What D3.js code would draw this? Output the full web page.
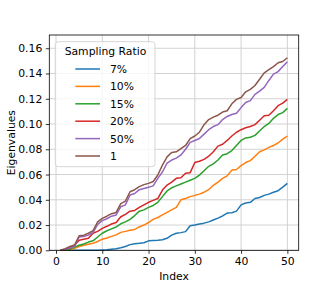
<!DOCTYPE html>
<html>
<head>
<meta charset="utf-8">
<script src="https://cdn.jsdelivr.net/npm/d3@7"></script>
<style>
  body { margin: 0; background: #fff; }
  text { font-family: "DejaVu Sans", sans-serif; }
</style>
</head>
<body>
<div id="chart"></div>
<script>
// データ
const index = d3.range(1, 51);
const ratios = ["7%", "10%", "15%", "20%", "50%", "1"];
const colors = ["#1f77b4", "#ff7f0e", "#2ca02c", "#d62728", "#9467bd", "#8c564b"];

const r7 = [0,0,0,0,0,0,0,0,0,0.0002,
  0.0004,0.0008,0.0012,0.002,0.003,0.0045,0.0052,0.0055,0.006,0.0075,
  0.0078,0.008,0.0083,0.0095,0.012,0.0135,0.014,0.0148,0.0195,0.02,
  0.0208,0.0215,0.0225,0.024,0.0255,0.0272,0.0295,0.0298,0.031,0.036,
  0.0375,0.038,0.041,0.0418,0.0435,0.0445,0.046,0.0472,0.05,0.053];
const r10 = [0,0,0.0008,0.0015,0.003,0.004,0.0048,0.0055,0.007,0.0088,
  0.0098,0.011,0.0122,0.0142,0.015,0.0158,0.0165,0.0185,0.02,0.022,
  0.0245,0.026,0.028,0.03,0.032,0.034,0.04,0.041,0.0425,0.0435,
  0.0445,0.046,0.048,0.0515,0.054,0.057,0.059,0.0635,0.064,0.067,
  0.0695,0.071,0.0745,0.078,0.0795,0.0815,0.083,0.085,0.088,0.0905];
const r15 = [0,0,0.001,0.0025,0.004,0.005,0.0065,0.0075,0.0105,0.0135,
  0.0155,0.017,0.0185,0.021,0.0225,0.0245,0.0275,0.031,0.032,0.034,
  0.0355,0.038,0.0425,0.047,0.0495,0.051,0.0525,0.054,0.0555,0.057,
  0.0595,0.063,0.0665,0.0685,0.0715,0.0755,0.0765,0.079,0.083,0.087,
  0.089,0.0895,0.091,0.0945,0.098,0.1005,0.1045,0.1075,0.109,0.1124];
const r20 = [0,0.0005,0.002,0.004,0.008,0.0088,0.0095,0.0135,0.015,0.0174,
  0.019,0.0208,0.022,0.0266,0.0285,0.031,0.0316,0.034,0.036,0.038,
  0.0395,0.041,0.0477,0.0517,0.054,0.057,0.0575,0.061,0.0615,0.0695,
  0.0705,0.072,0.0745,0.078,0.0825,0.084,0.087,0.0905,0.0935,0.0955,
  0.097,0.098,0.0995,0.103,0.1065,0.107,0.1105,0.1145,0.1165,0.1195];
const r50 = [0,0.0008,0.002,0.003,0.0105,0.011,0.012,0.014,0.0205,0.0235,
  0.025,0.027,0.028,0.0345,0.036,0.0438,0.045,0.048,0.049,0.05,
  0.051,0.057,0.062,0.069,0.0715,0.073,0.0755,0.08,0.0855,0.087,
  0.0885,0.092,0.0955,0.098,0.0995,0.1035,0.106,0.1075,0.1085,0.113,
  0.117,0.1185,0.1235,0.126,0.129,0.1345,0.1395,0.1415,0.1455,0.1493];
const r100 = [0,0.0013,0.003,0.0042,0.0115,0.012,0.0135,0.0155,0.0225,0.0253,
  0.027,0.029,0.03,0.037,0.039,0.0464,0.048,0.0504,0.052,0.053,
  0.0545,0.0596,0.0675,0.074,0.0775,0.078,0.0805,0.083,0.0885,0.0905,
  0.0935,0.0995,0.1035,0.1055,0.107,0.1095,0.1105,0.116,0.1195,0.121,
  0.1255,0.1275,0.1305,0.1355,0.1405,0.143,0.1455,0.1485,0.1495,0.1525];
const series = [r7, r10, r15, r20, r50, r100];

const xTicks = [0, 10, 20, 30, 40, 50];
const yTicks = [0, 0.02, 0.04, 0.06, 0.08, 0.10, 0.12, 0.14, 0.16];

// 描画
const W = 332, H = 295;
const m = {left: 49.3, right: 298.7, top: 35, bottom: 250.3};

const svg = d3.select("#chart").append("svg")
  .attr("width", W).attr("height", H);

const x = d3.scaleLinear().domain([-1.45, 52.45]).range([m.left, m.right]);
const y = d3.scaleLinear().domain([0, 0.1705]).range([m.bottom, m.top]);

// グリッド
const grid = svg.append("g").attr("stroke", "#d2d2d2").attr("stroke-width", 1);
grid.selectAll(".gx").data(xTicks).enter().append("line")
  .attr("x1", d => x(d)).attr("x2", d => x(d))
  .attr("y1", m.top).attr("y2", m.bottom);
grid.selectAll(".gy").data(yTicks).enter().append("line")
  .attr("x1", m.left).attr("x2", m.right)
  .attr("y1", d => y(d)).attr("y2", d => y(d));

// 線
const line = d3.line().x((d, i) => x(index[i])).y(d => y(d));
svg.append("g").selectAll("path").data(series).enter().append("path")
  .attr("d", line)
  .attr("fill", "none")
  .attr("stroke", (d, i) => colors[i])
  .attr("stroke-width", 1.5)
  .attr("stroke-linejoin", "round");

// 軸
const xAxis = svg.append("g").attr("transform", "translate(0," + m.bottom + ")")
  .call(d3.axisBottom(x).tickValues(xTicks).tickSize(3.5).tickPadding(3.5).tickFormat(d3.format("d")));
const yAxis = svg.append("g").attr("transform", "translate(" + m.left + ",0)")
  .call(d3.axisLeft(y).tickValues(yTicks).tickSize(3.5).tickPadding(3.5).tickFormat(d3.format(".2f")));
[xAxis, yAxis].forEach(function(a){
  a.select(".domain").remove();
  a.selectAll(".tick line").attr("stroke", "#000").attr("stroke-width", 0.8);
  a.selectAll(".tick text").attr("fill", "#000").style("font-size", "10.8px")
    .style("font-family", "DejaVu Sans");
});

// 枠
svg.append("rect")
  .attr("x", m.left).attr("y", m.top)
  .attr("width", m.right - m.left).attr("height", m.bottom - m.top)
  .attr("fill", "none").attr("stroke", "#000").attr("stroke-width", 0.8);

// ラベル
svg.append("text").attr("x", (m.left + m.right) / 2).attr("y", 279.5)
  .attr("text-anchor", "middle").style("font-size", "10.8px").text("Index");
svg.append("text")
  .attr("transform", "translate(15," + ((m.top + m.bottom) / 2) + ") rotate(-90)")
  .attr("text-anchor", "middle").style("font-size", "10.8px").text("Eigenvalues");

// 凡例
const lg = svg.append("g");
lg.append("rect")
  .attr("x", 55.3).attr("y", 41.7).attr("width", 99.7).attr("height", 125)
  .attr("rx", 3).attr("fill", "#fff").attr("fill-opacity", 0.8)
  .attr("stroke", "#cccccc").attr("stroke-width", 0.8);
lg.append("text").attr("x", 105.5).attr("y", 54.6)
  .attr("text-anchor", "middle").style("font-size", "10.8px").text("Sampling Ratio");
ratios.forEach(function(r, i){
  const yy = 69 + i * 17.4;
  lg.append("line").attr("x1", 75.3).attr("x2", 100).attr("y1", yy).attr("y2", yy)
    .attr("stroke", colors[i]).attr("stroke-width", 1.5);
  lg.append("text").attr("x", 110).attr("y", yy + 3.9)
    .style("font-size", "10.8px").text(r);
});
</script>
</body>
</html>
